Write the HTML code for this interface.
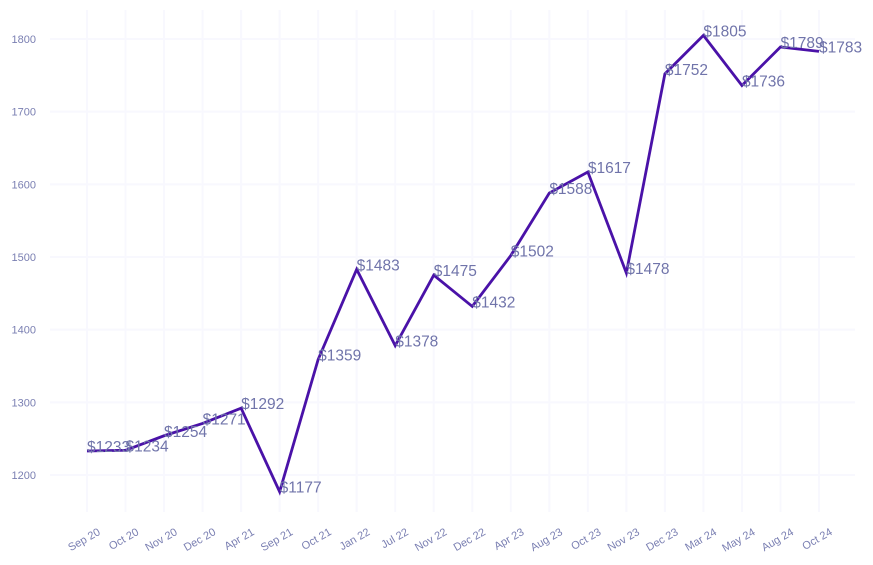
<!DOCTYPE html>
<html><head><meta charset="utf-8"><style>
body{margin:0;background:#fff}
svg{display:block;font-family:"Liberation Sans",sans-serif}
</style></head><body>
<svg id="chart" width="873" height="565" viewBox="0 0 873 565">
<g id="grid"></g>
<g id="yaxis"></g>
<g id="xaxis"></g>
<g id="series"></g>
</svg>
<script>
const categories=["Sep 20","Oct 20","Nov 20","Dec 20","Apr 21","Sep 21","Oct 21","Jan 22","Jul 22","Nov 22","Dec 22","Apr 23","Aug 23","Oct 23","Nov 23","Dec 23","Mar 24","May 24","Aug 24","Oct 24"];
const values=[1233,1234,1254,1271,1292,1177,1359,1483,1378,1475,1432,1502,1588,1617,1478,1752,1805,1736,1789,1783];
const yTicks=[1200,1300,1400,1500,1600,1700,1800];
const NS="http://www.w3.org/2000/svg";
const x0=87,x1=819,yBase=475,yScale=0.7267;
function xPos(i){return x0+i*(x1-x0)/(categories.length-1);}
function yPos(v){return yBase-(v-1200)*yScale;}
function mk(tag,attrs,parent){const e=document.createElementNS(NS,tag);for(const k in attrs)e.setAttribute(k,attrs[k]);parent.appendChild(e);return e;}
const grid=document.getElementById('grid'),ya=document.getElementById('yaxis'),xa=document.getElementById('xaxis'),ser=document.getElementById('series');
yTicks.forEach(t=>{
  const l=mk('line',{x1:50,x2:855,y1:yPos(t),y2:yPos(t),stroke:'#f8f8fe','stroke-width':2},grid);
  
  
  const tx=mk('text',{x:36,y:yPos(t)+4,'text-anchor':'end','font-size':11,fill:'#7a7fb2'},ya);
  tx.textContent=t;
  
  
});
categories.forEach((c,i)=>{
  const x=xPos(i);
  const l=mk('line',{x1:x,x2:x,y1:10,y2:512,stroke:'#f8f8fe','stroke-width':2},grid);
  
  
  const tx=mk('text',{x:x+14,y:534,'text-anchor':'end','font-size':11,fill:'#7a7fb2',transform:`rotate(-30 ${x+14} 534)`},xa);
  tx.textContent=c;
  
  
});
const pts=values.map((v,i)=>xPos(i)+','+yPos(v)).join(' ');
const pl=mk('polyline',{points:pts,fill:'none',stroke:'#4a12a8','stroke-width':2.8,'stroke-linejoin':'miter'},ser);


values.forEach((v,i)=>{
  const tx=mk('text',{x:xPos(i),y:yPos(v)+1,'font-size':15.5,fill:'#7074aa'},ser);
  tx.textContent='$'+v;
  
  
});
</script>
</body></html>
